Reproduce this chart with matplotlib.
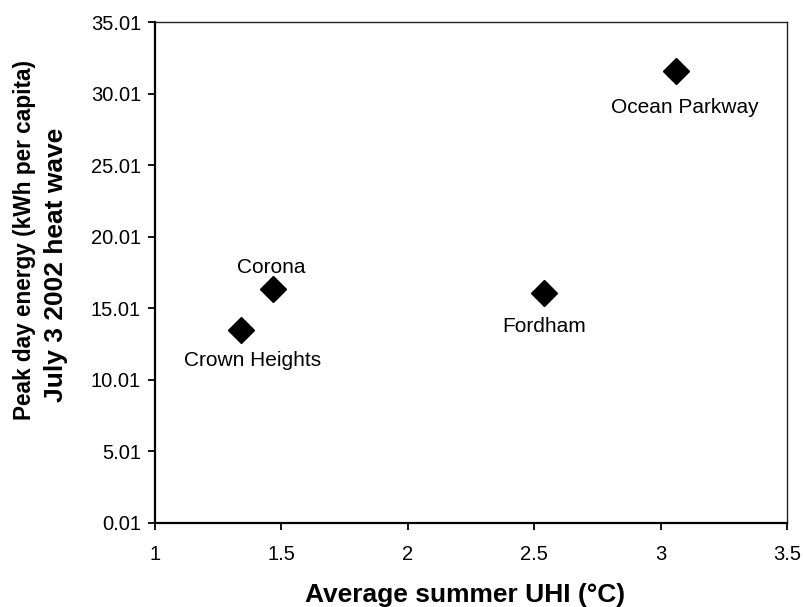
import numpy as np
import matplotlib.pyplot as plt
from matplotlib.ticker import FixedLocator, FormatStrFormatter

plt.rcParams['font.family'] = ['Liberation Sans', 'DejaVu Sans']

sites = ['Crown Heights', 'Corona', 'Fordham', 'Ocean Parkway']
uhi = [1.34, 1.465, 2.54, 3.06]
peak_energy = [13.49, 16.33, 16.06, 31.59]
# label offsets (points) relative to marker
label_dx = [8, -1, 0, 6.5]
label_dy = [-22, 16, -24, -26]

yticks = [0.01, 5.01, 10.01, 15.01, 20.01, 25.01, 30.01, 35.01]
xticks = [1, 1.5, 2, 2.5, 3, 3.5]
xticklabels = ['1', '1.5', '2', '2.5', '3', '3.5']

W, H = 804, 607
fig = plt.figure(figsize=(W / 100, H / 100), dpi=100)
ax = fig.add_axes([155 / W, 1 - 523 / H, (787 - 155) / W, (523 - 22) / H])

ax.plot(uhi, peak_energy, linestyle='none', marker='D', markersize=13.5, color='black')

for name, x, y, dx, dy in zip(sites, uhi, peak_energy, label_dx, label_dy):
    ax.annotate(name, (x, y), xytext=(dx, dy), textcoords='offset points',
                ha='center', va='center', fontsize=15)

ax.set_xlim(1, 3.5)
ax.set_ylim(0.01, 35.01)
ax.yaxis.set_major_locator(FixedLocator(yticks))
ax.yaxis.set_major_formatter(FormatStrFormatter('%.2f'))
ax.set_xticks(xticks)
ax.set_xticklabels(xticklabels)
ax.tick_params(direction='out', length=5, width=1.3, labelsize=14.5)
ax.tick_params(axis='y', pad=5)
ax.tick_params(axis='x', pad=11)

for s in ['left', 'bottom']:
    ax.spines[s].set_linewidth(1.6)
for s in ['top', 'right']:
    ax.spines[s].set_linewidth(1.0)
    ax.spines[s].set_color('#222222')

# axis titles
fig.text(465 / W, 1 - 595 / H, 'Average summer UHI (°C)', fontsize=19,
         fontweight='bold', ha='center', va='center')
fig.text(25 / W, 1 - 240 / H, 'Peak day energy (kWh per capita)', fontsize=16.3,
         fontweight='bold', rotation=90, ha='center', va='center')
fig.text(56 / W, 1 - 265 / H, 'July 3 2002 heat wave', fontsize=19,
         fontweight='bold', rotation=90, ha='center', va='center')

plt.savefig('out.png', dpi=100)
